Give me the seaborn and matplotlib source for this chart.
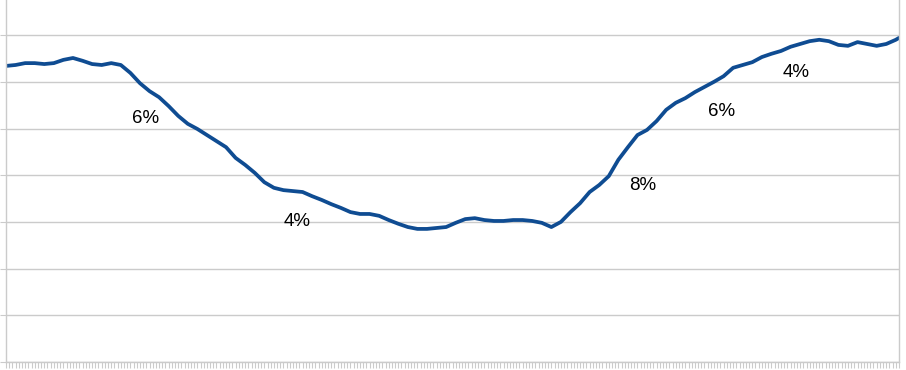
import numpy as np
import pandas as pd
import seaborn as sns
import matplotlib.pyplot as plt

days = list(range(0, 280, 3)) + [280]
level = [6.34, 6.36, 6.40, 6.40, 6.38, 6.40, 6.47, 6.51, 6.45, 6.38,
         6.36, 6.40, 6.36, 6.19, 5.97, 5.80, 5.67, 5.48, 5.27, 5.10,
         4.99, 4.86, 4.73, 4.60, 4.37, 4.22, 4.05, 3.85, 3.73, 3.68,
         3.66, 3.64, 3.55, 3.47, 3.38, 3.30, 3.21, 3.17, 3.17, 3.13,
         3.04, 2.96, 2.89, 2.85, 2.85, 2.87, 2.89, 2.98, 3.06, 3.08,
         3.04, 3.02, 3.02, 3.04, 3.04, 3.02, 2.98, 2.89, 3.00, 3.21,
         3.40, 3.64, 3.79, 3.98, 4.33, 4.60, 4.86, 4.97, 5.16, 5.40,
         5.55, 5.65, 5.78, 5.89, 6.00, 6.12, 6.30, 6.36, 6.42, 6.53,
         6.60, 6.66, 6.75, 6.81, 6.87, 6.90, 6.87, 6.79, 6.77, 6.85,
         6.81, 6.77, 6.81, 6.90, 6.94]

# rate annotations along the curve
label_text = ['6%', '4%', '8%', '6%', '4%']
label_x = [43.9, 91.2, 199.7, 224.5, 247.7]
label_y = [5.22, 3.00, 3.77, 5.37, 6.19]

n_periods = 280

df = pd.DataFrame({'day': days, 'level': level})

sns.set_style('white')
plt.rcParams['font.family'] = ['Liberation Sans', 'DejaVu Sans']

fig = plt.figure(figsize=(9.06, 3.70), dpi=100)
ax = fig.add_axes([6 / 906, 8 / 370, 893 / 906, 362 / 370])

grid_col = '#cbcbcb'
ax.set_yticks(range(0, 8))
ax.yaxis.grid(True, color=grid_col, linewidth=1)
ax.set_axisbelow(True)

sns.lineplot(data=df, x='day', y='level', ax=ax, color='#0f4c92',
             linewidth=2.7, solid_capstyle='round', solid_joinstyle='round')

for t, x, y in zip(label_text, label_x, label_y):
    ax.text(x, y, t, fontsize=13.5, ha='center', va='center', color='#000000')

ax.set_xlim(0, n_periods)
ax.set_ylim(0, 362 / 46.7)
ax.set_xticks(np.arange(0, n_periods + 1))
ax.set_xticklabels([])
ax.set_yticklabels([])
ax.set_xlabel('')
ax.set_ylabel('')
ax.tick_params(axis='both', direction='out', length=4, width=0.8,
               color=grid_col, bottom=True, left=True)

for side in ['left', 'bottom', 'right']:
    ax.spines[side].set_visible(True)
    ax.spines[side].set_color(grid_col)
    ax.spines[side].set_linewidth(1)
ax.spines['top'].set_visible(False)

fig.savefig('out.png', dpi=100)
